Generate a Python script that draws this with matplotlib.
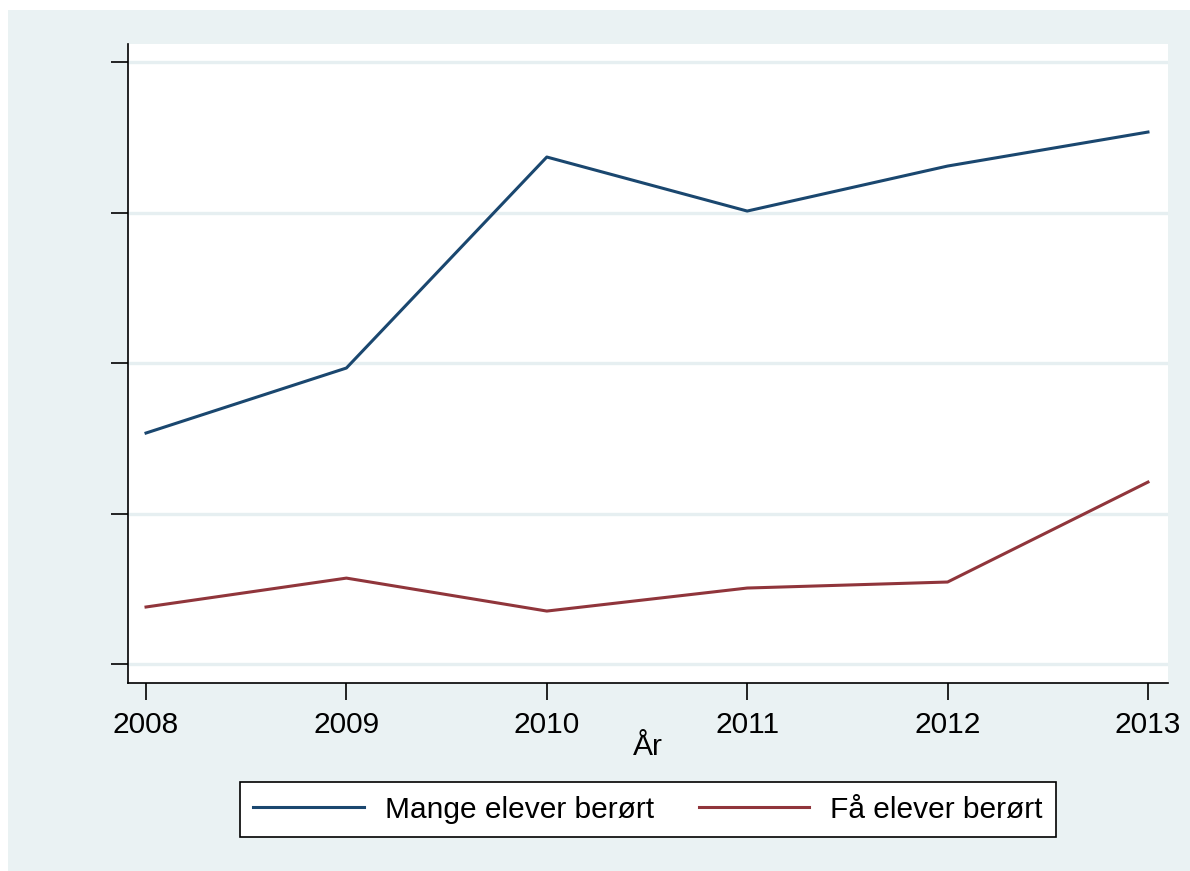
import matplotlib.pyplot as plt
from matplotlib.patches import Rectangle

# data (y-akse uten synlige etiketter, verdier lest av i tikk-enheter)
aar = [2008, 2009, 2010, 2011, 2012, 2013]
mange_elever = [1.535, 1.967, 3.369, 3.010, 3.309, 3.535]
faa_elever = [0.379, 0.571, 0.352, 0.505, 0.545, 1.209]
y_ticks = [0, 1, 2, 3, 4]

plt.rcParams['font.family'] = ['Liberation Sans', 'DejaVu Sans']

fig = plt.figure(figsize=(11.9, 8.71), dpi=100, facecolor='white')
# lys bakgrunn (Stata s2color)
fig.patches.append(Rectangle((8 / 1190, 0), 1, 1 - 10 / 871, transform=fig.transFigure,
                             facecolor='#eaf2f3', edgecolor='none', zorder=-5))

ax = fig.add_axes([128 / 1190, 1 - 683 / 871, 1040 / 1190, 639 / 871])
ax.set_zorder(2)
ax.set_facecolor('white')

ax.plot(aar, mange_elever, color='#1a476f', lw=2.2, label='Mange elever berørt')
ax.plot(aar, faa_elever, color='#90353b', lw=2.2, label='Få elever berørt')

ax.set_xlim(2007.91, 2013.1)
ax.set_ylim(-0.126, 4.12)
ax.set_xticks(aar)
ax.set_xticklabels([str(a) for a in aar])
ax.set_yticks(y_ticks)
ax.set_yticklabels([])
ax.grid(axis='y', color='#e6eff1', lw=2.4)
ax.set_axisbelow(True)

for s in ['top', 'right']:
    ax.spines[s].set_visible(False)
for s in ['left', 'bottom']:
    ax.spines[s].set_linewidth(1.2)
ax.tick_params(axis='both', length=12, width=1.2, labelsize=21.5, pad=8)

fig.text(648 / 1190, 1 - 747 / 871, 'År', fontsize=21.5, ha='center', va='center')

leg = fig.legend(loc='center', bbox_to_anchor=(648 / 1190, 1 - 809.5 / 871), ncol=2,
                 fontsize=21.5, handlelength=3.7, handletextpad=0.7, columnspacing=1.5,
                 fancybox=False, edgecolor='black', framealpha=1, borderpad=0.45)
leg.get_frame().set_linewidth(1.2)

fig.savefig('out.png', dpi=100, facecolor=fig.get_facecolor())
